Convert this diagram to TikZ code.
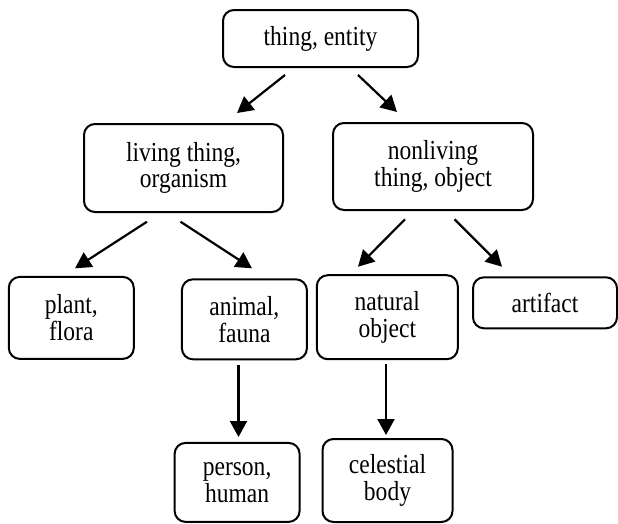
\documentclass[tikz,border=0pt]{standalone}
\usepackage{fontspec}
\setmainfont[FakeStretch=0.855]{Liberation Serif}
\usetikzlibrary{arrows.meta}
\begin{document}
\begin{tikzpicture}[x=1pt,y=-1pt,
  concept/.style={draw, line width=2pt, rounded corners=11pt, align=center,
    inner sep=0pt, font=\fontsize{27.5}{26.7}\selectfont},
  link/.style={line width=2.2pt, -{Triangle[length=16pt,width=17pt]}}]
\useasboundingbox (0,0) rectangle (618,523);

% concept boxes
\node[concept, minimum width=195pt, minimum height=57pt] (thing) at (320.5,38.5) {thing, entity};
\node[concept, minimum width=199pt, minimum height=88pt] (living) at (183.5,168) {living thing,\\organism};
\node[concept, minimum width=200pt, minimum height=87pt] (nonliving) at (433,166.5) {nonliving\\thing, object};
\node[concept, minimum width=125pt, minimum height=82pt] (plant) at (71.3,317.9) {plant,\\flora};
\node[concept, minimum width=125pt, minimum height=80pt] (animal) at (244.4,319.3) {animal,\\fauna};
\node[concept, minimum width=141pt, minimum height=84pt] (natural) at (387.3,317.2) {natural\\object};
\node[concept, minimum width=144pt, minimum height=51pt] (artifact) at (545,302.8) {artifact};
\node[concept, minimum width=125pt, minimum height=79pt] (person) at (237.1,482.4) {person,\\human};
\node[concept, minimum width=130pt, minimum height=83pt] (celestial) at (387.5,480.5) {celestial\\body};

% connector end points
\coordinate (t-l1) at (285,75);    \coordinate (t-l2) at (237,113);
\coordinate (t-n1) at (358,75);    \coordinate (t-n2) at (397,112);
\coordinate (l-p1) at (147,221.7); \coordinate (l-p2) at (75,268.3);
\coordinate (l-a1) at (180.5,221.7); \coordinate (l-a2) at (252,268.3);
\coordinate (n-n1) at (405,219.3); \coordinate (n-n2) at (358,266.7);
\coordinate (n-a1) at (454.5,219.3); \coordinate (n-a2) at (502,266.7);
\coordinate (a-p1) at (238.5,365); \coordinate (a-p2) at (238.5,437);
\coordinate (n-c1) at (386,364);   \coordinate (n-c2) at (386,435);

% hierarchy arrows
\draw[link] (t-l1) -- (t-l2);
\draw[link] (t-n1) -- (t-n2);
\draw[link] (l-p1) -- (l-p2);
\draw[link] (l-a1) -- (l-a2);
\draw[link] (n-n1) -- (n-n2);
\draw[link] (n-a1) -- (n-a2);
\draw[link] (a-p1) -- (a-p2);
\draw[link] (n-c1) -- (n-c2);
\end{tikzpicture}
\end{document}
